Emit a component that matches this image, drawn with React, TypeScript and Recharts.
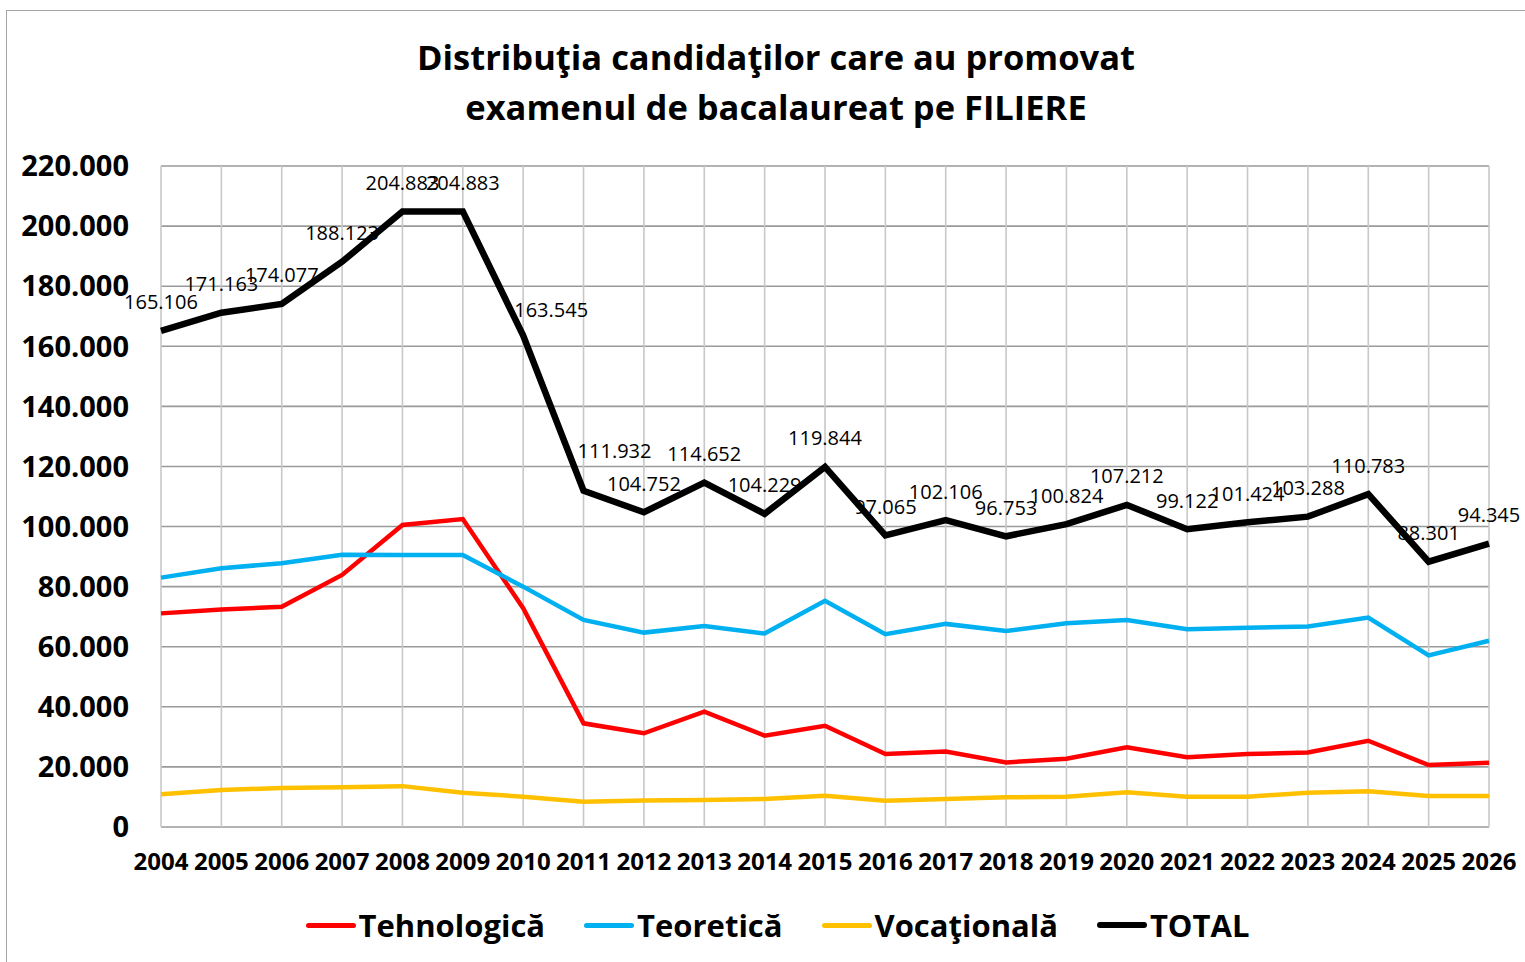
import { LineChart, Line, XAxis, YAxis, CartesianGrid, LabelList } from "recharts";

const years = [
  "2004", "2005", "2006", "2007", "2008", "2009", "2010", "2011", "2012", "2013", "2014", "2015",
  "2016", "2017", "2018", "2019", "2020", "2021", "2022", "2023", "2024", "2025", "2026",
];

const tehnologica = [
  71100, 72400, 73300, 83900, 100500, 102500, 72800, 34500, 31200, 38400, 30400, 33700,
  24300, 25100, 21500, 22700, 26500, 23200, 24300, 24800, 28700, 20600, 21400,
];

const teoretica = [
  83000, 86100, 87800, 90600, 90500, 90500, 80000, 68900, 64700, 66900, 64400, 75300,
  64200, 67600, 65200, 67800, 68900, 65800, 66300, 66700, 69700, 57100, 62000,
];

const vocationala = [
  10900, 12300, 13000, 13200, 13600, 11400, 10100, 8400, 8800, 9000, 9300, 10400,
  8700, 9300, 9900, 10100, 11600, 10100, 10100, 11400, 11900, 10300, 10300,
];

const total = [
  165106, 171163, 174077, 188123, 204883, 204883, 163545, 111932, 104752, 114652, 104229, 119844,
  97065, 102106, 96753, 100824, 107212, 99122, 101424, 103288, 110783, 88301, 94345,
];

const yTicks = [0, 20000, 40000, 60000, 80000, 100000, 120000, 140000, 160000, 180000, 200000, 220000];

const series = [
  { key: "tehnologica", label: "Tehnologică", color: "#FF0000", width: 4.5 },
  { key: "teoretica", label: "Teoretică", color: "#00B0F0", width: 4.5 },
  { key: "vocationala", label: "Vocaţională", color: "#FFC000", width: 4.5 },
  { key: "total", label: "TOTAL", color: "#000000", width: 6.5 },
];

const data = years.map((year, i) => ({
  year,
  tehnologica: tehnologica[i],
  teoretica: teoretica[i],
  vocationala: vocationala[i],
  total: total[i],
}));

// a couple of labels sit off their usual spot in the original
const labelShift: Record<number, [number, number]> = {
  6: [28, 3],
  7: [31, -11],
};

const FONT = "'Open Sans', 'Liberation Sans', sans-serif";

function formatThousands(n: number): string {
  return String(Math.round(n)).replace(/\B(?=(\d{3})+(?!\d))/g, ".");
}

// eslint-disable-next-line @typescript-eslint/no-explicit-any
function TotalLabel(props: any) {
  const { x, y, value, index } = props;
  const [dx, dy] = labelShift[index] ?? [0, 0];
  return (
    <text
      x={x + dx}
      y={y - 29 + dy}
      textAnchor="middle"
      dominantBaseline="central"
      fontFamily={FONT}
      fontSize={20}
      fill="#000"
    >
      {formatThousands(value)}
    </text>
  );
}

export default function App() {
  return (
    <div
      style={{
        position: "absolute",
        left: 0,
        top: 0,
        width: 1525,
        height: 962,
        background: "white",
        overflow: "hidden",
        fontFamily: FONT,
      }}
    >
      {/* outer frame */}
      <div
        style={{
          position: "absolute",
          left: 6,
          top: 10,
          width: 1540,
          height: 980,
          border: "1.5px solid #a6a6a6",
        }}
      />

      {/* Title */}
      <div
        style={{
          position: "absolute",
          left: 0,
          top: 32,
          width: 1552,
          textAlign: "center",
          fontWeight: 700,
          fontSize: 34.5,
          lineHeight: "50px",
          color: "#000",
        }}
      >
        Distribuţia candidaţilor care au promovat
        <br />
        examenul de bacalaureat pe FILIERE
      </div>

      <div style={{ position: "absolute", left: 0, top: 0 }}>
        <LineChart
          width={1525}
          height={962}
          data={data}
          margin={{ top: 166, right: 36, bottom: 95, left: 21 }}
        >
          <CartesianGrid vertical={false} stroke="#9a9a9a" strokeWidth={1.6} />
          <CartesianGrid horizontal={false} stroke="#c8c8c8" strokeWidth={1.6} />
          <XAxis
            dataKey="year"
            axisLine={false}
            tickLine={false}
            tickSize={0}
            tickMargin={26}
            interval={0}
            height={40}
            tick={{ fontSize: 24, fontWeight: 700, fill: "#000", fontFamily: FONT }}
          />
          <YAxis
            domain={[0, 220000]}
            ticks={yTicks}
            axisLine={false}
            tickLine={false}
            tickSize={0}
            tickMargin={32}
            width={140}
            tickFormatter={formatThousands}
            tick={{ fontSize: 29, fontWeight: 700, fill: "#000", fontFamily: FONT }}
          />
          {series.map((s) => (
            <Line
              key={s.key}
              type="linear"
              dataKey={s.key}
              stroke={s.color}
              strokeWidth={s.width}
              dot={false}
              activeDot={false}
              isAnimationActive={false}
            >
              {s.key === "total" && <LabelList dataKey="total" content={TotalLabel} />}
            </Line>
          ))}
        </LineChart>
      </div>

      {/* Legend */}
      <div
        style={{
          position: "absolute",
          left: 30,
          top: 904,
          width: 1495,
          display: "flex",
          justifyContent: "center",
          alignItems: "center",
          gap: 39,
        }}
      >
        {series.map((s) => (
          <div key={s.key} style={{ display: "flex", alignItems: "center", gap: 3 }}>
            <span
              style={{
                display: "inline-block",
                width: 50,
                height: s.key === "total" ? 6 : 5,
                borderRadius: 3,
                background: s.color,
              }}
            />
            <span style={{ fontSize: 31, fontWeight: 700, color: "#000", lineHeight: "42px" }}>
              {s.label}
            </span>
          </div>
        ))}
      </div>
    </div>
  );
}
